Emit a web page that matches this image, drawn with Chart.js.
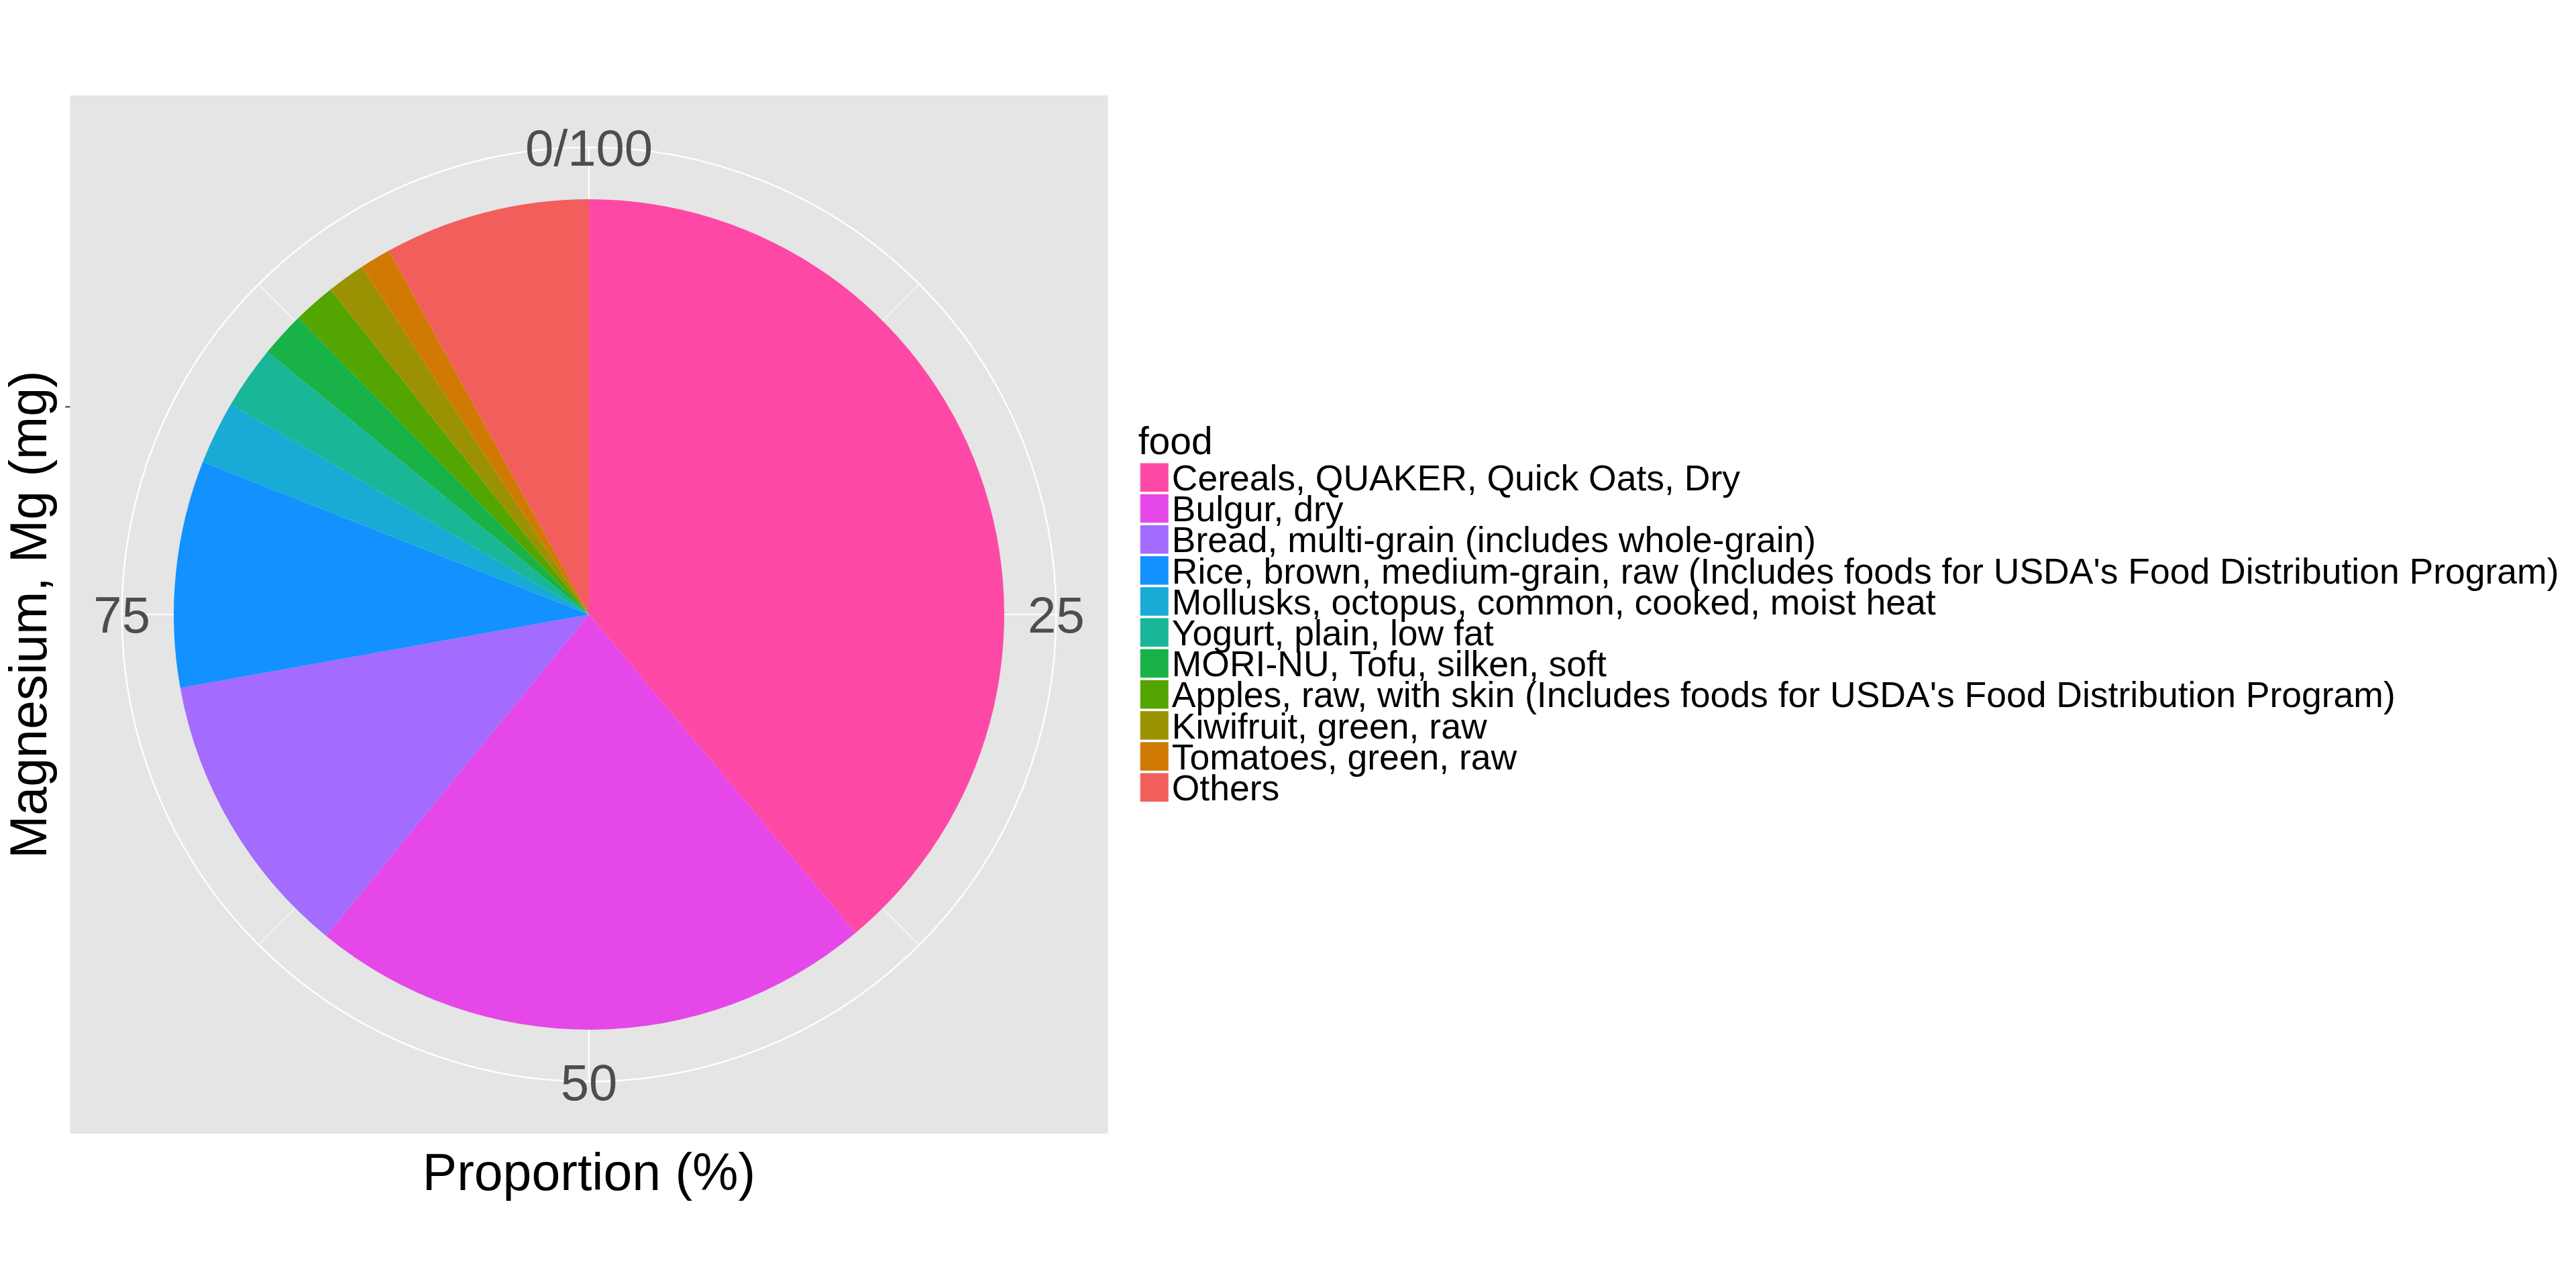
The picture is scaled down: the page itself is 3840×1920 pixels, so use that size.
<!DOCTYPE html>
<html>
<head>
<meta charset="utf-8">
<script src="https://cdn.jsdelivr.net/npm/chart.js@4/dist/chart.umd.min.js"></script>
<style>
  html, body { margin: 0; padding: 0; background: #ffffff; }
  #wrap { width: 3840px; height: 1920px; position: relative; }
  canvas { display: block; }
</style>
</head>
<body>
<div id="wrap"><canvas id="c" width="3840" height="1920"></canvas></div>
<script>
// ---- data ----
const categories = [
  "Cereals, QUAKER, Quick Oats, Dry",
  "Bulgur, dry",
  "Bread, multi-grain (includes whole-grain)",
  "Rice, brown, medium-grain, raw (Includes foods for USDA's Food Distribution Program)",
  "Mollusks, octopus, common, cooked, moist heat",
  "Yogurt, plain, low fat",
  "MORI-NU, Tofu, silken, soft",
  "Apples, raw, with skin (Includes foods for USDA's Food Distribution Program)",
  "Kiwifruit, green, raw",
  "Tomatoes, green, raw",
  "Others"
];
const proportions = [38.91, 22.00, 11.26, 8.82, 2.46, 2.46, 1.75, 1.64, 1.49, 1.21, 8.00];
const sliceColors = ["#FE48A6", "#E647E8", "#A36BFE", "#1291FF", "#18ABD5", "#19B698",
                     "#19B246", "#53A502", "#9B9203", "#D07A04", "#F25E5B"];
const thetaMajorValues = [0, 25, 50, 75];
const thetaTickLabels = ["0/100", "25", "50", "75"];
const thetaMinorValues = [12.5, 37.5, 62.5, 87.5];
const thetaMax = 100;
const xTitle = "Proportion (%)";
const yTitle = "Magnesium, Mg (mg)";
const legendTitle = "food";

const FONT = '"Liberation Sans", Arial, Helvetica, sans-serif';

function angleOf(v) { return -Math.PI / 2 + (v / thetaMax) * Math.PI * 2; }

const ggPlugin = {
  id: 'ggPolar',
  geom(chart) {
    const arc = chart.getDatasetMeta(0).data[0];
    const cx = arc.x, cy = arc.y, R = arc.outerRadius;
    return { cx, cy, R, half: R / 0.8, rc: R * 1.125 };
  },
  beforeDatasetsDraw(chart) {
    const ctx = chart.ctx;
    const { cx, cy, half, rc } = this.geom(chart);
    ctx.save();
    ctx.fillStyle = '#E5E5E5';
    ctx.fillRect(cx - half, cy - half, half * 2, half * 2);
    ctx.strokeStyle = '#FFFFFF';
    // minor spokes
    ctx.lineWidth = 1.1;
    thetaMinorValues.forEach(v => {
      const a = angleOf(v);
      ctx.beginPath(); ctx.moveTo(cx, cy);
      ctx.lineTo(cx + rc * Math.cos(a), cy + rc * Math.sin(a)); ctx.stroke();
    });
    // major spokes
    ctx.lineWidth = 2.2;
    thetaMajorValues.forEach(v => {
      const a = angleOf(v);
      ctx.beginPath(); ctx.moveTo(cx, cy);
      ctx.lineTo(cx + rc * Math.cos(a), cy + rc * Math.sin(a)); ctx.stroke();
    });
    // outer circle
    ctx.lineWidth = 2.4;
    ctx.beginPath(); ctx.arc(cx, cy, rc, 0, Math.PI * 2); ctx.stroke();
    ctx.restore();
  },
  afterDatasetsDraw(chart) {
    const ctx = chart.ctx;
    const { cx, cy, R, half, rc } = this.geom(chart);
    ctx.save();
    // theta tick labels
    ctx.fillStyle = '#4D4D4D';
    ctx.font = '76px ' + FONT;
    ctx.textAlign = 'center';
    ctx.textBaseline = 'alphabetic';
    thetaMajorValues.forEach((v, i) => {
      const a = angleOf(v);
      const x = cx + rc * Math.cos(a), y = cy + rc * Math.sin(a);
      ctx.fillText(thetaTickLabels[i], x, y + 76 * 0.358);
    });
    // radial axis tick (left)
    const left = cx - half, bottom = cy + half, right = cx + half;
    ctx.strokeStyle = '#333333';
    ctx.lineWidth = 2;
    ctx.beginPath(); ctx.moveTo(left - 7, cy - R / 2); ctx.lineTo(left, cy - R / 2); ctx.stroke();
    // axis titles
    ctx.fillStyle = '#000000';
    ctx.font = '77px ' + FONT;
    ctx.textAlign = 'center';
    ctx.fillText(xTitle, cx, bottom + 84);
    ctx.save();
    ctx.translate(left - 35, cy);
    ctx.rotate(-Math.PI / 2);
    ctx.fillText(yTitle, 0, 0);
    ctx.restore();
    // legend
    const lx = right + 45;
    ctx.textAlign = 'left';
    ctx.font = '57px ' + FONT;
    ctx.fillText(legendTitle, lx, cy - 239);
    ctx.font = '53.5px ' + FONT;
    const pitch = 46.2;
    const top0 = cy - 225.5;
    categories.forEach((lab, i) => {
      const ty = top0 + i * pitch;
      ctx.fillStyle = sliceColors[i];
      ctx.fillRect(lx + 3, ty, 42, 42.5);
      ctx.fillStyle = '#000000';
      ctx.fillText(lab, lx + 50, ty + 40.5);
    });
    ctx.restore();
  }
};

new Chart(document.getElementById('c'), {
  type: 'pie',
  data: {
    labels: categories,
    datasets: [{
      data: proportions,
      backgroundColor: sliceColors,
      borderWidth: 0,
      hoverOffset: 0,
      offset: 0
    }]
  },
  options: {
    responsive: false,
    devicePixelRatio: 1,
    animation: false,
    rotation: 0,
    circumference: 360,
    layout: { padding: { left: 259, right: 2343, top: 297, bottom: 385 } },
    plugins: {
      legend: { display: false },
      tooltip: { enabled: false },
      title: { display: false }
    },
    events: []
  },
  plugins: [ggPlugin]
});
</script>
</body>
</html>
